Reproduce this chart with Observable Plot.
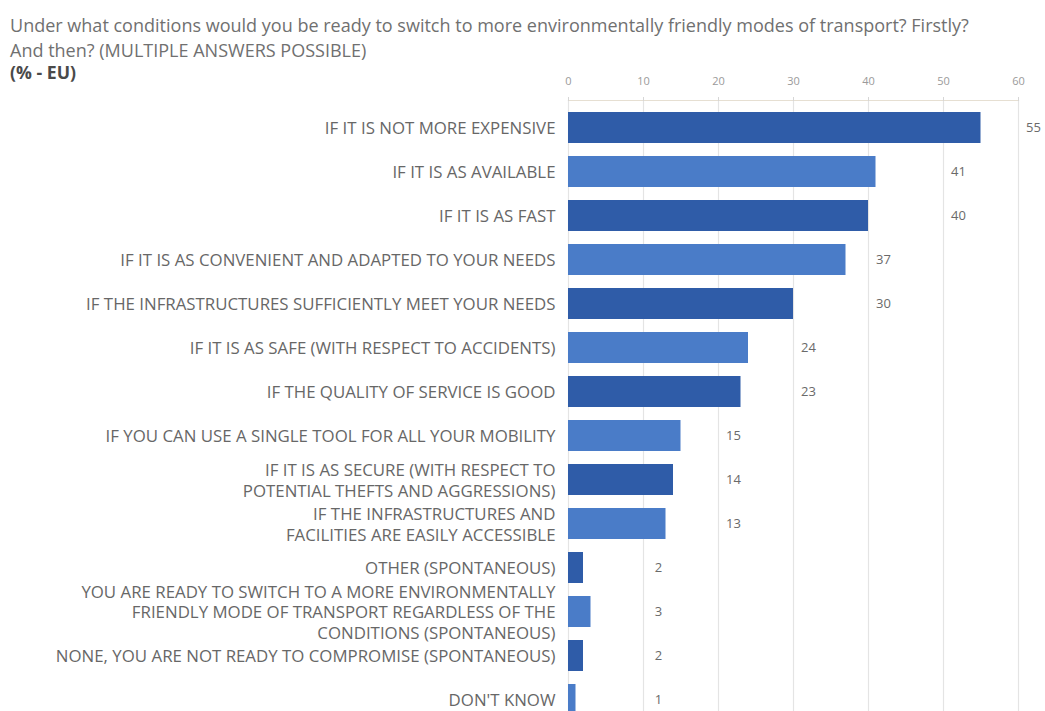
<!DOCTYPE html>
<html><head><meta charset="utf-8">
<script src="https://cdn.jsdelivr.net/npm/d3@7"></script>
<script src="https://cdn.jsdelivr.net/npm/@observablehq/plot@0.6"></script>
<style>
html,body{margin:0;padding:0;background:#fff;overflow:hidden;width:1045px;height:711px;}
body{font-family:"Open Sans",sans-serif;}
#head{height:62px;position:relative;}
#title{position:absolute;left:10px;top:13px;color:#707070;white-space:nowrap;}
#wrap{position:relative;}
#unit{position:absolute;left:10px;top:0px;font-weight:bold;color:#4a4a4a;line-height:20px;}
#chart svg{display:block;}
</style></head><body>
<div id="head"><div id="title"></div></div>
<div id="wrap"><div id="unit"></div><div id="chart"></div></div>
<script>
const titleLines = [
  "Under what conditions would you be ready to switch to more environmentally friendly modes of transport? Firstly?",
  "And then? (MULTIPLE ANSWERS POSSIBLE)"
];
const unitLabel = "(% - EU)";
const categories = [
  "IF IT IS NOT MORE EXPENSIVE",
  "IF IT IS AS AVAILABLE",
  "IF IT IS AS FAST",
  "IF IT IS AS CONVENIENT AND ADAPTED TO YOUR NEEDS",
  "IF THE INFRASTRUCTURES SUFFICIENTLY MEET YOUR NEEDS",
  "IF IT IS AS SAFE (WITH RESPECT TO ACCIDENTS)",
  "IF THE QUALITY OF SERVICE IS GOOD",
  "IF YOU CAN USE A SINGLE TOOL FOR ALL YOUR MOBILITY",
  "IF IT IS AS SECURE (WITH RESPECT TO\nPOTENTIAL THEFTS AND AGGRESSIONS)",
  "IF THE INFRASTRUCTURES AND\nFACILITIES ARE EASILY ACCESSIBLE",
  "OTHER (SPONTANEOUS)",
  "YOU ARE READY TO SWITCH TO A MORE ENVIRONMENTALLY\nFRIENDLY MODE OF TRANSPORT REGARDLESS OF THE\nCONDITIONS (SPONTANEOUS)",
  "NONE, YOU ARE NOT READY TO COMPROMISE (SPONTANEOUS)",
  "DON'T KNOW"
];
const values = [55, 41, 40, 37, 30, 24, 23, 15, 14, 13, 2, 3, 2, 1];
const xTicks = [0, 10, 20, 30, 40, 50, 60];

const DARK = "#2f5ca8", LIGHT = "#4a7cc8";
const FONT = '"Open Sans", sans-serif';

function fitSize(text, weight, target) {
  const ctx = document.createElement("canvas").getContext("2d");
  ctx.font = `${weight} 100px ${FONT}`;
  return 100 * target / ctx.measureText(text).width;
}

const titleSize = fitSize(titleLines[0], "normal", 960);
const titleEl = document.getElementById("title");
titleEl.style.fontSize = titleSize + "px";
titleEl.style.lineHeight = Math.ceil(titleSize * 1.36) + "px";
titleEl.innerHTML = titleLines.map(t => `<div>${t}</div>`).join("");
const unitEl = document.getElementById("unit");
unitEl.textContent = unitLabel;
unitEl.style.fontSize = fitSize(unitLabel, "bold", 66) + "px";

const labelSize = fitSize("NONE, YOU ARE NOT READY TO COMPROMISE (SPONTANEOUS)", "normal", 500);

const data = categories.map((c, i) => ({cat: c, value: values[i], i}));

const chart = Plot.plot({
  width: 1045,
  height: 664,
  marginTop: 38,
  marginBottom: 0,
  marginLeft: 568,
  marginRight: 27,
  style: {fontFamily: FONT, background: "#fff"},
  x: {domain: [0, 60], axis: null},
  y: {domain: categories, paddingInner: 0.3, paddingOuter: 0.226, axis: null},
  color: {type: "identity"},
  marks: [
    Plot.ruleX(xTicks, {stroke: "#e4e4e4", strokeWidth: 1.2}),
    Plot.frame({anchor: "top", stroke: "#e6dfd2", strokeWidth: 1.2}),
    Plot.axisX(xTicks, {anchor: "top", label: null, tickSize: 4, tickPadding: 12, stroke: "#d6d6d6", fill: "#9a9a9a", fontSize: 11, tickFormat: d => String(d)}),
    Plot.barX(data, {y: "cat", x: "value", fill: d => d.i % 2 ? LIGHT : DARK}),
    Plot.text(data, {y: "cat", text: "cat", frameAnchor: "left", dx: -13, textAnchor: "end",
      lineHeight: 1.2, fontSize: labelSize, fill: "#676767"}),
    Plot.text(data, {y: "cat", x: d => Math.floor(d.value / 10) * 10 + 12, text: d => String(d.value),
      fill: "#6a6a6a", fontSize: 13})
  ]
});
document.getElementById("chart").appendChild(chart);
</script>
</body></html>
